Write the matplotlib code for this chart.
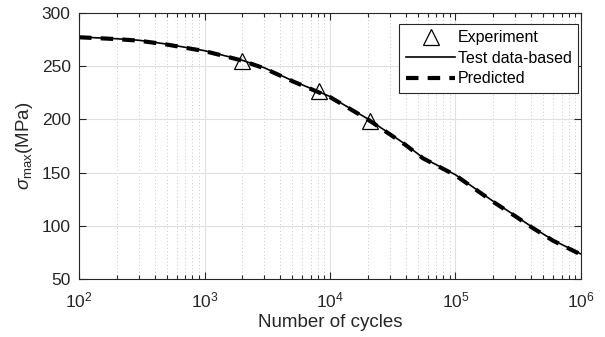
import matplotlib
matplotlib.use("Agg")
import matplotlib.pyplot as plt
from matplotlib.ticker import LogLocator, NullFormatter

plt.rcParams["font.family"] = ["Liberation Sans", "DejaVu Sans"]
plt.rcParams["mathtext.fontset"] = "custom"
plt.rcParams["mathtext.rm"] = "Liberation Sans"
plt.rcParams["mathtext.it"] = "Liberation Sans:italic"

# values
cycles = [1e2, 2e2, 3e2, 5e2, 1e3, 1.6e3, 2e3, 3e3, 5e3, 1e4, 2e4, 3e4, 4e4,
          5.5e4, 1e5, 2e5, 3e5, 4e5, 6e5, 1e6]
sigma_test = [277.5, 275.8, 274.4, 270.8, 264.6, 258.6, 255.6, 248.5, 236.5,
              221.5, 200.5, 186.5, 176.5, 164.0, 148.0, 123.0, 109.5, 99.5,
              86.5, 73.5]
sigma_pred = [277.2, 275.5, 274.0, 270.4, 264.2, 258.2, 255.2, 248.0, 236.0,
              221.0, 200.0, 186.0, 176.0, 163.5, 147.5, 122.5, 109.0, 99.0,
              86.0, 73.0]

exp_cycles = [2000, 8100, 20700]
exp_sigma = [254.5, 227.0, 198.5]

dark = "#262626"

fig = plt.figure(figsize=(6.05, 3.37), dpi=100)
ax = fig.add_axes([0.1306, 0.172, 0.8297, 0.7894])

ax.plot(exp_cycles, exp_sigma, linestyle="none", marker="^", markersize=12,
        markerfacecolor="none", markeredgecolor="black", markeredgewidth=0.9,
        label="Experiment")
ax.plot(cycles, sigma_test, color="black", linewidth=1.2, label="Test data-based")
ax.plot(cycles, sigma_pred, color="black", linewidth=3.0, dashes=(3, 2.2),
        label="Predicted")

ax.set_xscale("log")
ax.set_xlim(1e2, 1e6)
ax.set_ylim(50, 300)
ax.set_yticks([50, 100, 150, 200, 250, 300])
ax.xaxis.set_major_locator(LogLocator(base=10, numticks=10))
ax.xaxis.set_minor_locator(LogLocator(base=10, subs=range(2, 10), numticks=50))
ax.xaxis.set_minor_formatter(NullFormatter())

ax.grid(True, which="major", axis="both", color="#e0e0e0", linewidth=0.8,
        linestyle="-")
ax.grid(True, which="minor", axis="x", color="#c8c8c8", linewidth=0.7,
        linestyle=(0, (1, 2.5)))
ax.set_axisbelow(True)

ax.tick_params(which="both", direction="in", top=True, right=True,
               colors=dark, labelsize=12.5, width=0.8)
ax.tick_params(which="major", length=5, pad=6)
ax.tick_params(axis="x", which="major", pad=8)
ax.tick_params(which="minor", length=3)
for s in ax.spines.values():
    s.set_color(dark)
    s.set_linewidth(0.8)

ax.set_xlabel("Number of cycles", fontsize=13.5, color=dark, labelpad=3)
ax.set_ylabel(r"$\sigma_{\rm max}$(MPa)", fontsize=13.5, color=dark, labelpad=5)

leg = ax.legend(loc="upper right", bbox_to_anchor=(0.994, 0.959), fontsize=11.5,
                frameon=True, fancybox=False, edgecolor=dark, framealpha=1,
                handlelength=3.1, handletextpad=0.15, borderpad=0.4,
                labelspacing=0.35, borderaxespad=0.0)
leg.get_frame().set_linewidth(0.8)
for t in leg.get_texts():
    t.set_color("black")

fig.savefig("out.png", dpi=100)
